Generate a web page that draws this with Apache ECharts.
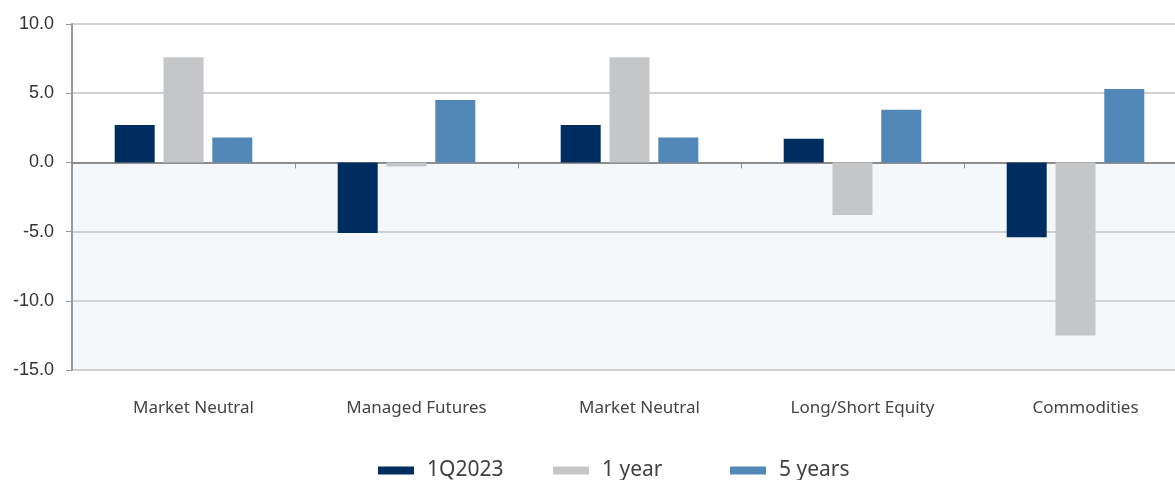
<!DOCTYPE html>
<html>
<head>
<meta charset="utf-8">
<title>Hedge fund returns</title>
<style>
  html, body { margin: 0; padding: 0; background: #fff; overflow: hidden; }
  /* the plot runs a little past the right edge of the picture */
  #chart { width: 1190px; height: 480px; }
</style>
</head>
<body>
<div id="chart"></div>
<script src="https://cdn.jsdelivr.net/npm/echarts@6/dist/echarts.min.js"></script>
<script>
// categories and values
var categories = ['Market Neutral', 'Managed Futures', 'Market Neutral', 'Long/Short Equity', 'Commodities'];
var seriesNames = ['1Q2023', '1 year', '5 years'];
var q1_2023 = [2.7, -5.1, 2.7, 1.7, -5.4];
var oneYear = [7.6, -0.3, 7.6, -3.8, -12.5];
var fiveYears = [1.8, 4.5, 1.8, 3.8, 5.3];

var colors = ['#002d5f', '#c5c6c8', '#5288b7'];
var legendLeft = [378, 553, 730];

var chart = echarts.init(document.getElementById('chart'));

function bar(name, data, color) {
  return {
    name: name,
    type: 'bar',
    data: data,
    barWidth: 40,
    barGap: '22%',
    itemStyle: { color: color },
    z: 3
  };
}

// one legend per series so the items sit in fixed columns
var legends = seriesNames.map(function (name, i) {
  return {
    left: legendLeft[i],
    top: 460,
    padding: 0,
    icon: 'rect',
    itemWidth: 36,
    itemHeight: 8,
    textStyle: {
      fontFamily: 'Noto Sans',
      fontSize: 21,
      color: '#404040',
      padding: [0, 0, 0, 8]
    },
    data: [name]
  };
});

chart.setOption({
  animation: false,
  color: colors,
  grid: { left: 72, right: 3, top: 24, bottom: 110 },
  legend: legends,
  xAxis: [{
    type: 'category',
    data: categories,
    position: 'bottom',
    axisLine: { show: false, onZero: false },
    axisTick: { show: false },
    axisLabel: {
      margin: 30,
      padding: [0, 0, 0, 20],
      fontFamily: 'Noto Sans',
      fontSize: 17,
      color: '#444'
    }
  }, {
    type: 'category',
    data: categories,
    position: 'bottom',
    axisLine: { onZero: true, lineStyle: { color: '#8e8e8e', width: 2 } },
    axisTick: { show: true, length: 6, lineStyle: { color: '#8e8e8e' } },
    axisLabel: { show: false }
  }],
  yAxis: {
    type: 'value',
    min: -15,
    max: 10,
    interval: 5,
    axisLine: { show: true, lineStyle: { color: '#999', width: 2 } },
    axisTick: { show: true, length: 6, lineStyle: { color: '#999' } },
    axisLabel: {
      margin: 18,
      fontFamily: 'Liberation Sans',
      fontSize: 18,
      color: '#333',
      formatter: function (v) { return v.toFixed(1); }
    },
    splitLine: { lineStyle: { color: '#d0d1d3', width: 2 } },
    splitArea: {
      show: true,
      areaStyle: { color: ['#f4f8fb', '#f4f8fb', '#f4f8fb', '#ffffff', '#ffffff'] }
    }
  },
  series: [
    bar(seriesNames[0], q1_2023, colors[0]),
    bar(seriesNames[1], oneYear, colors[1]),
    bar(seriesNames[2], fiveYears, colors[2])
  ]
});
</script>
</body>
</html>
